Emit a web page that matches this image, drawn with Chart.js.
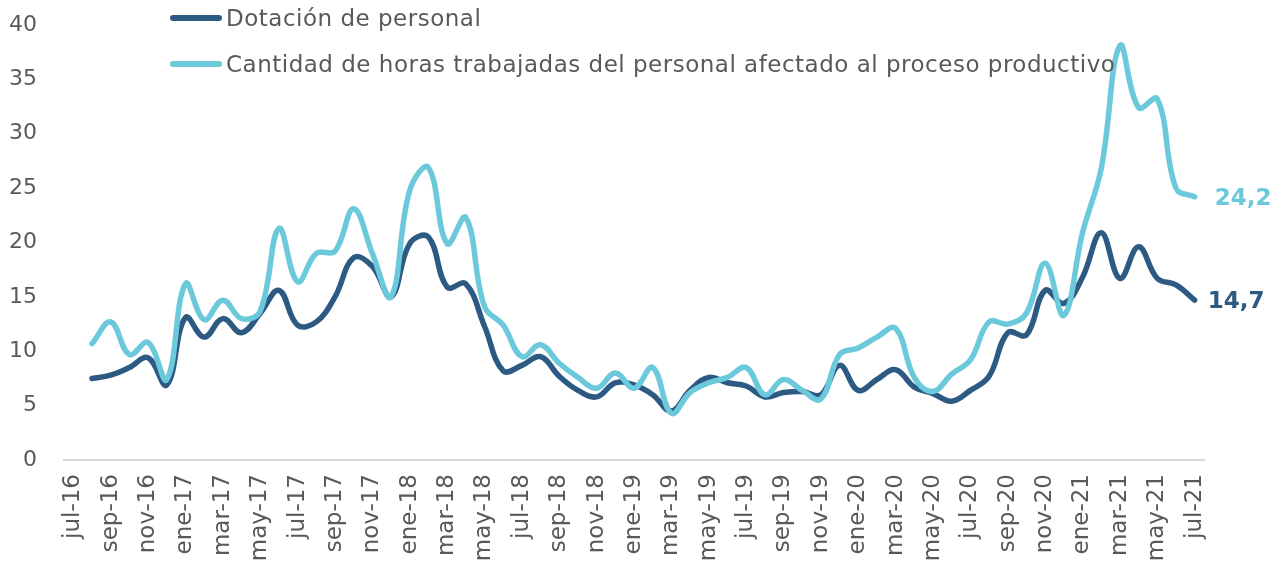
<!DOCTYPE html>
<html lang="es">
<head>
<meta charset="utf-8">
<title>Dotación de personal y horas trabajadas</title>
<script src="https://cdn.jsdelivr.net/npm/chart.js@4.4.1/dist/chart.umd.min.js"></script>
<style>
    html, body {
        margin: 0;
        padding: 0;
        background: #ffffff;
    }
    #wrap {
        position: relative;
        width: 1274px;
        height: 567px;
    }
    #legend {
        position: absolute;
        left: 170px;
        top: 0;
        font-family: "DejaVu Sans", Verdana, sans-serif;
        font-size: 23px;
        letter-spacing: 0.5px;
        color: #595959;
    }
    .legend-item {
        position: absolute;
        left: 0;
        white-space: nowrap;
        height: 30px;
        line-height: 30px;
    }
    .legend-line {
        display: inline-block;
        width: 52px;
        height: 6px;
        border-radius: 3px;
        vertical-align: middle;
        margin-right: 4px;
        position: relative;
        top: -2px;
    }
</style>
</head>
<body>
<div id="wrap">
    <canvas id="chart" width="1274" height="567"></canvas>
    <div id="legend"></div>
</div>
<script>
const months = ['jul-16', 'ago-16', 'sep-16', 'oct-16', 'nov-16', 'dic-16',
    'ene-17', 'feb-17', 'mar-17', 'abr-17', 'may-17', 'jun-17', 'jul-17', 'ago-17', 'sep-17', 'oct-17', 'nov-17', 'dic-17',
    'ene-18', 'feb-18', 'mar-18', 'abr-18', 'may-18', 'jun-18', 'jul-18', 'ago-18', 'sep-18', 'oct-18', 'nov-18', 'dic-18',
    'ene-19', 'feb-19', 'mar-19', 'abr-19', 'may-19', 'jun-19', 'jul-19', 'ago-19', 'sep-19', 'oct-19', 'nov-19', 'dic-19',
    'ene-20', 'feb-20', 'mar-20', 'abr-20', 'may-20', 'jun-20', 'jul-20', 'ago-20', 'sep-20', 'oct-20', 'nov-20', 'dic-20',
    'ene-21', 'feb-21', 'mar-21', 'abr-21', 'may-21', 'jun-21', 'jul-21'];

// valores (jul-16 sin dato)
const dotacion = [null, 7.5, 7.8, 8.5, 9.4, 6.9, 13.1, 11.3, 13.0, 11.7, 13.5, 15.6, 12.4, 12.7, 15.0, 18.6, 17.8, 15.0,
    19.9, 20.5, 15.9, 16.2, 12.3, 8.2, 8.7, 9.5, 7.7, 6.4, 5.8, 7.1, 6.9, 6.0, 4.5, 6.4, 7.6, 7.1, 6.8, 5.8, 6.2, 6.3,
    6.0, 8.7, 6.4, 7.4, 8.3, 6.7, 6.1, 5.4, 6.4, 7.7, 11.7, 11.5, 15.6, 14.4, 16.8, 20.9, 16.7, 19.6, 16.7, 16.1, 14.7];

const horas = [null, 10.7, 12.7, 9.7, 10.8, 7.4, 16.2, 12.9, 14.7, 13.0, 13.7, 21.3, 16.4, 19.0, 19.2, 23.1, 19.0, 15.0,
    24.8, 26.9, 19.9, 22.3, 14.1, 12.4, 9.5, 10.6, 8.9, 7.6, 6.6, 8.0, 6.6, 8.5, 4.3, 6.2, 7.1, 7.6, 8.5, 6.0, 7.4, 6.4,
    5.6, 9.7, 10.3, 11.3, 12.1, 7.6, 6.3, 7.9, 9.2, 12.7, 12.5, 13.5, 18.1, 13.3, 20.9, 26.8, 38.1, 32.4, 33.2, 25.0, 24.2];

const seriesNames = ['Dotación de personal', 'Cantidad de horas trabajadas del personal afectado al proceso productivo'];
const seriesColors = ['#2d5a82', '#6cc9db'];
const yTicks = [0, 5, 10, 15, 20, 25, 30, 35, 40];

const textColor = '#595959';
const fontFamily = '"DejaVu Sans", Verdana, sans-serif';

// etiqueta con el ultimo valor a la derecha de cada linea
const lastValueLabels = {
    id: 'lastValueLabels',
    afterDatasetsDraw(chart) {
        const ctx = chart.ctx;
        ctx.save();
        ctx.font = 'bold 23px ' + fontFamily;
        ctx.textAlign = 'left';
        ctx.textBaseline = 'middle';
        chart.data.datasets.forEach((ds, i) => {
            const meta = chart.getDatasetMeta(i);
            const last = ds.data.length - 1;
            const pt = meta.data[last];
            const dx = ds.label === seriesNames[1] ? 20 : 13;
            ctx.fillStyle = ds.borderColor;
            ctx.fillText(ds.data[last].toFixed(1).replace('.', ','), pt.x + dx, pt.y + 2);
        });
        ctx.restore();
    }
};

function buildLegend() {
    const legend = document.getElementById('legend');
    const tops = [3, 49];
    seriesNames.forEach((name, i) => {
        const item = document.createElement('div');
        item.className = 'legend-item';
        item.style.top = tops[i] + 'px';
        item.innerHTML = `<span class="legend-line" style="background:${seriesColors[i]}"></span>${name}`;
        legend.appendChild(item);
    });
}

document.addEventListener('DOMContentLoaded', function() {
    Chart.defaults.font.family = fontFamily;
    Chart.defaults.color = textColor;

    const ctx = document.getElementById('chart').getContext('2d');
    new Chart(ctx, {
        type: 'line',
        data: {
            labels: months,
            datasets: [dotacion, horas].map((values, i) => ({
                label: seriesNames[i],
                data: values,
                borderColor: seriesColors[i],
                backgroundColor: seriesColors[i],
                borderWidth: 5.5,
                pointRadius: 0,
                tension: 0.4,
                fill: false,
                borderCapStyle: 'round',
                borderJoinStyle: 'round',
                clip: false
            })).reverse()
        },
        options: {
            responsive: false,
            animation: false,
            layout: {
                autoPadding: false,
                padding: { left: 0, right: 70, top: 25, bottom: 0 }
            },
            plugins: {
                legend: { display: false },
                tooltip: { enabled: false }
            },
            scales: {
                x: {
                    type: 'category',
                    offset: true,
                    grid: { display: false, drawTicks: false },
                    border: { display: true, color: '#d9d9d9', width: 2 },
                    ticks: {
                        autoSkip: false,
                        minRotation: 90,
                        maxRotation: 90,
                        padding: 14,
                        color: textColor,
                        font: { size: 23 },
                        callback: function(value, index) {
                            return index % 2 === 0 ? this.getLabelForValue(value) : '';
                        }
                    },
                    afterFit: function(scale) {
                        scale.height = 107;
                    }
                },
                y: {
                    min: 0,
                    max: 40,
                    grid: { display: false, drawTicks: false },
                    border: { display: false },
                    ticks: {
                        stepSize: 5,
                        padding: 27,
                        color: textColor,
                        font: { size: 22 }
                    },
                    afterBuildTicks: function(scale) {
                        scale.ticks = yTicks.map(v => ({ value: v }));
                    },
                    afterFit: function(scale) {
                        // la separacion de las etiquetas no debe empujar el area del grafico
                        scale.width = 64;
                        scale.paddingTop = 13;
                        scale.paddingBottom = 13;
                    }
                }
            }
        },
        plugins: [lastValueLabels]
    });

    buildLegend();
});
</script>
</body>
</html>
